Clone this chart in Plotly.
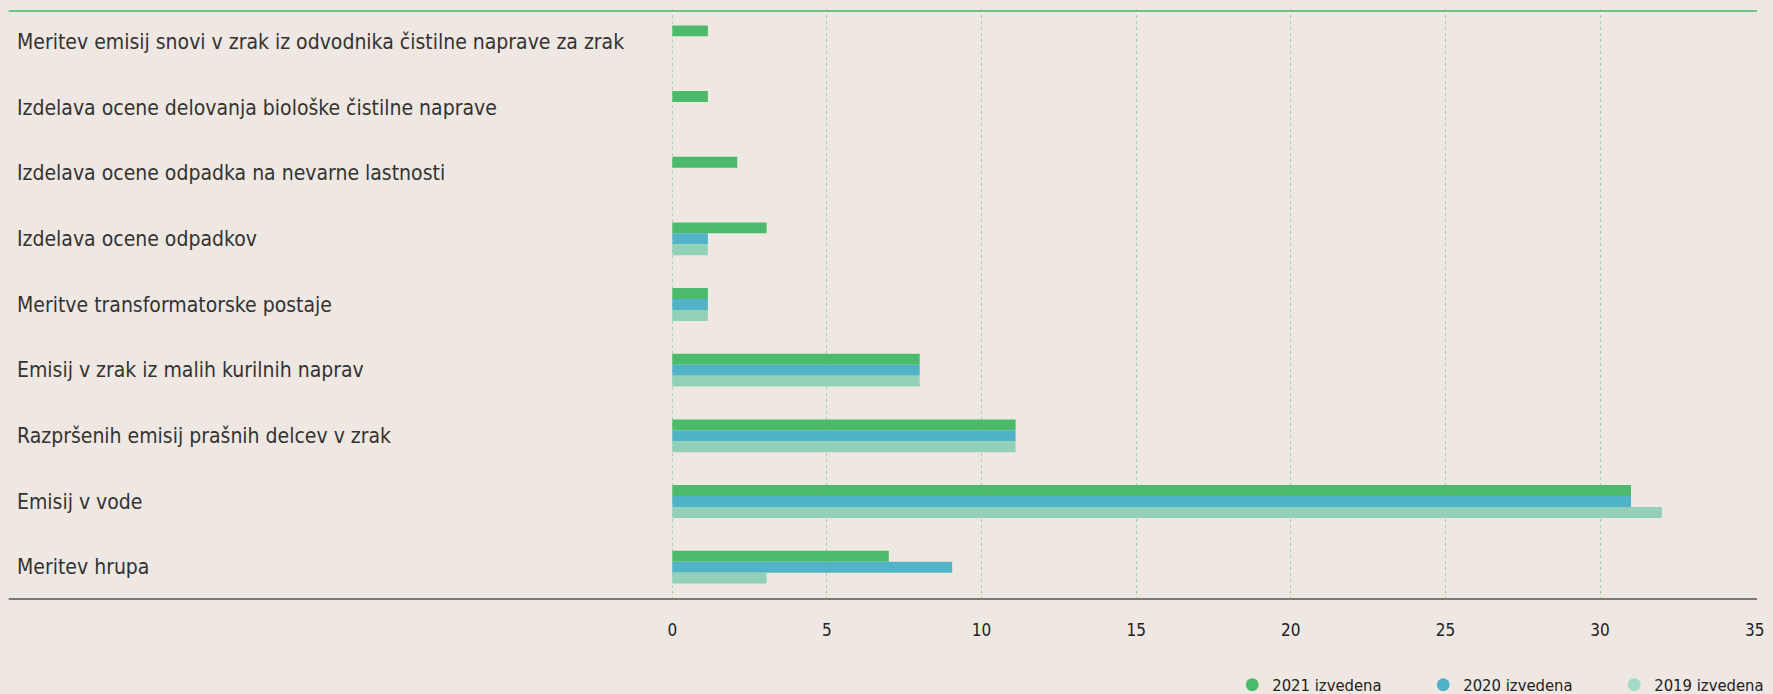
import plotly.graph_objects as go

categories = [
    "Meritev emisij snovi v zrak iz odvodnika čistilne naprave za zrak",
    "Izdelava ocene delovanja biološke čistilne naprave",
    "Izdelava ocene odpadka na nevarne lastnosti",
    "Izdelava ocene odpadkov",
    "Meritve transformatorske postaje",
    "Emisij v zrak iz malih kurilnih naprav",
    "Razpršenih emisij prašnih delcev v zrak",
    "Emisij v vode",
    "Meritev hrupa",
]
v2021 = [1.15, 1.15, 2.1, 3.05, 1.15, 8, 11.1, 31, 7]
v2020 = [0, 0, 0, 1.15, 1.15, 8, 11.1, 31, 9.05]
v2019 = [0, 0, 0, 1.15, 1.15, 8, 11.1, 32, 3.05]
series_names = ["2021 izvedena", "2020 izvedena", "2019 izvedena"]
x_ticks = [0, 5, 10, 15, 20, 25, 30, 35]

colors = {"2021 izvedena": "#4bbb6b", "2020 izvedena": "#50b3c8", "2019 izvedena": "#92d1b8"}
legend_colors = {"2021 izvedena": "#4bbb6b", "2020 izvedena": "#50b3c8", "2019 izvedena": "#a3dbc6"}
values = {"2021 izvedena": v2021, "2020 izvedena": v2020, "2019 izvedena": v2019}

W, H = 1773, 694
L, R, T, B = 672, 12, 9, 94
PW, PH = W - L - R, H - T - B
FONT = "Liberation Sans Narrow, DejaVu Sans Condensed, Roboto Condensed, Arial Narrow, sans-serif"
GRID = "#95d6a2"

fig = go.Figure()
# with reversed y autorange, the first trace sits at the top of each group
for name in series_names:
    fig.add_trace(go.Bar(
        y=categories, x=values[name], orientation="h", name=name,
        marker=dict(color=colors[name], line=dict(width=0)),
        showlegend=False,
    ))
for name in series_names:
    fig.add_trace(go.Scatter(
        x=[None], y=[None], mode="markers", name=name,
        marker=dict(symbol="circle", size=13, color=legend_colors[name]),
        showlegend=True,
    ))

annotations = []
for c in categories:
    annotations.append(dict(
        x=(11 - L) / PW, xref="paper", y=c, yref="y",
        text=c, showarrow=False, xanchor="left", yanchor="middle",
        font=dict(family=FONT, size=21, color="#333333"),
    ))

shapes = [
    dict(type="line", xref="x", yref="paper", x0=0, x1=0, y0=0, y1=1,
         line=dict(color=GRID, width=1, dash="dot"), layer="below"),
    dict(type="line", xref="paper", yref="paper",
         x0=(5 - L) / PW, x1=(1763 - L) / PW,
         y0=1 - (11 - T) / PH, y1=1 - (11 - T) / PH,
         line=dict(color="#6cc585", width=2)),
    dict(type="line", xref="paper", yref="paper",
         x0=(5 - L) / PW, x1=(1763 - L) / PW,
         y0=(T + PH - 599) / PH, y1=(T + PH - 599) / PH,
         line=dict(color="#7a7a7a", width=2)),
]

fig.update_layout(
    width=W, height=H,
    margin=dict(l=L, r=R, t=T, b=B, pad=0),
    paper_bgcolor="#efe7e1", plot_bgcolor="#efe7e1",
    barmode="group", bargap=0.5, bargroupgap=0,
    xaxis=dict(
        range=[-0.01, 35.01], tickvals=x_ticks, ticktext=[str(t) for t in x_ticks],
        showgrid=True, gridcolor=GRID, griddash="dot", gridwidth=1,
        zeroline=False, showline=False, ticks="",
        tickfont=dict(family=FONT, size=17, color="#222222"),
        ticklabelstandoff=18,
    ),
    yaxis=dict(
        categoryorder="array", categoryarray=categories, autorange="reversed",
        showticklabels=False, showgrid=False, zeroline=False, showline=False,
    ),
    legend=dict(
        orientation="h", xref="container", yref="container",
        x=0.695, xanchor="left",
        y=1 - 685 / H, yanchor="middle",
        font=dict(family=FONT, size=16.5, color="#222222"),
        bgcolor="rgba(0,0,0,0)",
        entrywidth=146, entrywidthmode="pixels",
    ),
    annotations=annotations, shapes=shapes,
    showlegend=True,
)

fig.write_html("out.html", config={"displayModeBar": False},
               post_script="document.body.style.margin='0';")
